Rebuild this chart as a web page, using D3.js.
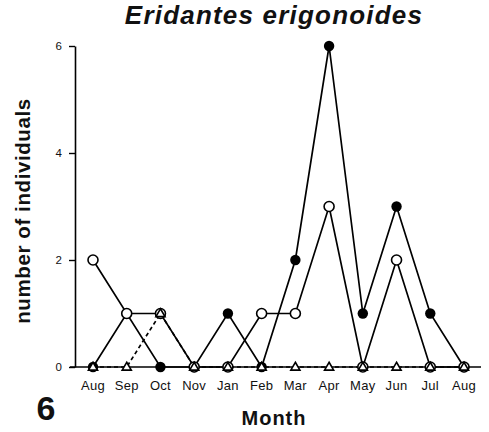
<!DOCTYPE html>
<html><head><meta charset="utf-8">
<script src="https://cdn.jsdelivr.net/npm/d3@7"></script>
<style>body{margin:0;background:#fff}svg{display:block}</style>
</head><body>
<svg id="c" width="489" height="432"></svg>
<script>
const months = ["Aug","Sep","Oct","Nov","Jan","Feb","Mar","Apr","May","Jun","Jul","Aug"];
const filledSeries = [0,1,0,0,1,0,2,6,1,3,1,0];
const openSeries   = [2,1,1,0,0,1,1,3,0,2,0,0];
const triSeries    = [0,0,1,0,0,0,0,0,0,0,0,0];
const yTicks = [0,2,4,6];

const svg = d3.select("#c");
const font = "Liberation Sans, Arial, Helvetica, sans-serif";
const idx = months.map((m,i)=>i);
const x = d3.scaleLinear().domain([0, months.length-1]).range([93, 464]);
const y = d3.scaleLinear().domain([0,6]).range([367, 46]);

// axes
const yAxis = d3.axisLeft(y).tickValues(yTicks).tickFormat(d3.format("d"))
  .tickSize(6).tickSizeOuter(0).tickPadding(7);
const gy = svg.append("g").attr("transform","translate(75,0)").call(yAxis);
gy.select(".domain").attr("stroke","#000").attr("stroke-width",1.6);
gy.selectAll(".tick line").attr("stroke","#000").attr("stroke-width",1.4);
gy.selectAll(".tick text").attr("font-family",font).attr("font-size",11.5).attr("fill","#111");

svg.append("line").attr("x1",70).attr("x2",481).attr("y1",y(0)).attr("y2",y(0))
  .attr("stroke","#000").attr("stroke-width",1.6);

svg.append("g").selectAll("text").data(idx).join("text")
  .attr("x", i=>x(i)).attr("y", 390)
  .attr("text-anchor","middle").attr("font-family",font).attr("font-size",13)
  .attr("letter-spacing",0.3).attr("fill","#111").text(i=>months[i]);

// lines
const line = d3.line().x((d,i)=>x(i)).y(d=>y(d));
svg.append("path").datum(triSeries).attr("d",line).attr("fill","none")
  .attr("stroke","#000").attr("stroke-width",1.7).attr("stroke-dasharray","4,3");
svg.append("path").datum(openSeries).attr("d",line).attr("fill","none")
  .attr("stroke","#000").attr("stroke-width",1.7);
svg.append("path").datum(filledSeries).attr("d",line).attr("fill","none")
  .attr("stroke","#000").attr("stroke-width",1.7);

// markers
svg.append("g").selectAll("circle").data(filledSeries).join("circle")
  .attr("cx",(d,i)=>x(i)).attr("cy",d=>y(d)).attr("r",5.2).attr("fill","#000");
svg.append("g").selectAll("circle").data(openSeries).join("circle")
  .attr("cx",(d,i)=>x(i)).attr("cy",d=>y(d)).attr("r",5).attr("fill","#fff")
  .attr("stroke","#000").attr("stroke-width",1.6);
const tri = d3.symbol().type(d3.symbolTriangle).size(36);
svg.append("g").selectAll("path").data(triSeries).join("path")
  .attr("d",tri).attr("transform",(d,i)=>`translate(${x(i)},${y(d)+0.5})`)
  .attr("fill","#fff").attr("stroke","#000").attr("stroke-width",1.6);

// texts
svg.append("text").attr("x",274).attr("y",24).attr("text-anchor","middle")
  .attr("font-family",font).attr("font-size",26).attr("font-weight","bold").attr("font-style","italic")
  .attr("letter-spacing",1.2).attr("fill","#111").text("Eridantes erigonoides");
svg.append("text").attr("transform","translate(30,211) rotate(-90)").attr("text-anchor","middle")
  .attr("font-family",font).attr("font-size",20.5).attr("font-weight","bold").attr("fill","#111")
  .attr("letter-spacing",0.6).text("number of individuals");
svg.append("text").attr("x",274).attr("y",425).attr("text-anchor","middle")
  .attr("font-family",font).attr("font-size",20).attr("font-weight","bold").attr("fill","#111")
  .attr("letter-spacing",1).text("Month");
svg.append("text").attr("x",46).attr("y",420).attr("text-anchor","middle")
  .attr("font-family",font).attr("font-size",34).attr("font-weight","bold").attr("fill","#111")
  .text("6");
</script>
</body></html>
